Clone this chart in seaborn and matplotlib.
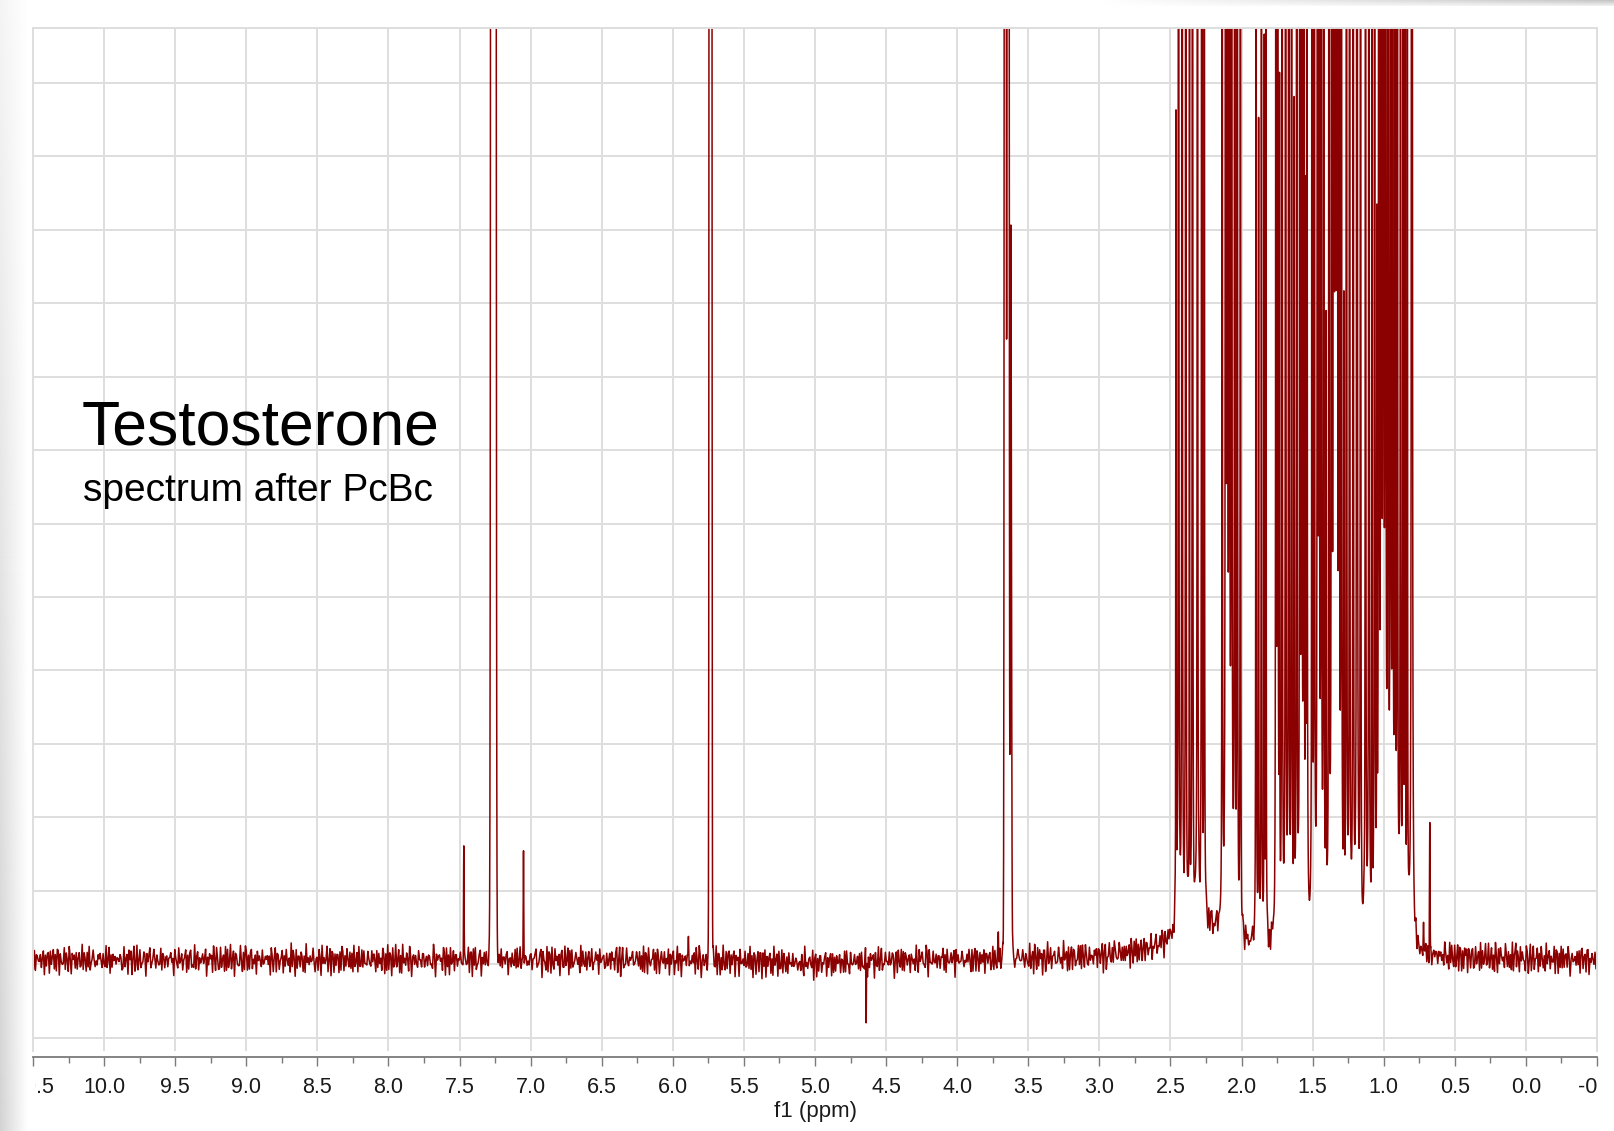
import numpy as np
import pandas as pd
import matplotlib
matplotlib.use("Agg")
import matplotlib.pyplot as plt
from matplotlib.transforms import Bbox
import seaborn as sns
from matplotlib.ticker import MultipleLocator, FuncFormatter

# ---------------------------------------------------------------------------
# Spectrum data (1H NMR, chemical shift in ppm, intensity in grid units)
# ---------------------------------------------------------------------------
# isolated signals: position, height, gaussian width (sigma, ppm)
singlet_ppm = [7.470, 7.262, 7.050, 5.890, 5.735, 4.640, 3.710,
               3.662, 3.642, 3.622, 0.720, 0.676, 0.070]
singlet_height = [1.55, 900.0, 1.50, 0.30, 500.0, -0.95, 0.35,
                  70.0, 100.0, 10.0, 0.40, 1.75, 0.25]
singlet_sigma = [0.0018, 0.0070, 0.0018, 0.0020, 0.0040, 0.0015, 0.0020,
                 0.0041, 0.0041, 0.0041, 0.0020, 0.0018, 0.0020]

# steroid backbone multiplets between 2.5 and 0.8 ppm (lorentzian lines)
cluster_ppm = [
    2.461, 2.443, 2.418, 2.392, 2.366, 2.345, 2.310, 2.280, 2.262,
    2.136, 2.112, 2.100, 2.086, 2.070, 2.048, 2.030, 2.008,
    1.898, 1.880, 1.860, 1.840, 1.828,
    1.758, 1.746, 1.733, 1.715, 1.690, 1.668, 1.648, 1.630,
    1.612, 1.590, 1.577, 1.562, 1.550, 1.540, 1.504, 1.488,
    1.466, 1.455, 1.440, 1.422, 1.405, 1.385, 1.366, 1.352, 1.340, 1.328,
    1.314, 1.298,
    1.280, 1.262, 1.240, 1.215, 1.188,
    1.163, 1.128, 1.104, 1.083, 1.064, 1.048, 1.034,
    1.018, 1.003, 0.988, 0.970, 0.952, 0.937, 0.920, 0.904,
    0.882, 0.864, 0.850, 0.834, 0.802,
]
cluster_height = [
    11, 55, 55, 50, 12, 50, 50, 45, 30,
    30, 70, 80, 75, 70, 50, 40, 30,
    30, 11, 28, 12, 16,
    45, 60, 11, 50, 55, 50, 45, 11,
    45, 50, 60, 55, 9, 45, 50, 45,
    55, 60, 55, 45, 8, 45, 70, 90, 120, 90,
    60, 55,
    8, 50, 45, 50, 100,
    40, 45, 50, 12, 50, 9, 80,
    100, 110, 90, 80, 70, 60, 60, 50,
    40, 35, 30, 25, 150,
]
cluster_hwhm = 0.0012

# broad baseline components: centre, height, half width (ppm)
baseline_ppm = [2.30, 1.30, 5.00]
baseline_height = [0.45, 0.15, -0.05]
baseline_hwhm = [0.25, 0.35, 0.40]
baseline_offset = 0.05

# baseline noise samples (two interleaved records)
noise_a = [0.12, -0.05, 0.08, -0.14, 0.03, 0.15, -0.09, 0.01, -0.12, 0.10,
           0.06, -0.15, 0.13, -0.02, -0.08, 0.14, 0.04, -0.11, 0.09, -0.06,
           0.16, -0.13, 0.02, 0.07, -0.10, 0.11, -0.03, -0.16, 0.05, 0.13,
           -0.07, 0.00, 0.12, -0.12, 0.08, -0.04, 0.15, -0.09, 0.03, -0.14,
           0.10, 0.06, -0.11, 0.14, -0.01, -0.08, 0.11, -0.15, 0.04, 0.09,
           -0.05, 0.16, -0.10, 0.02, -0.13, 0.07, 0.12, -0.06, 0.01, -0.12,
           0.13, -0.03, 0.08, -0.16, 0.10, 0.05, -0.09, 0.15, -0.02, -0.11,
           0.06, 0.11, -0.14, 0.03, -0.07, 0.14, -0.04, 0.09, -0.10, 0.00,
           0.12, -0.13, 0.07, 0.04, -0.08, 0.16, -0.12, 0.02, -0.05, 0.10,
           -0.15, 0.08, 0.13, -0.06, 0.01, -0.09, 0.11]
noise_b = [0.06, -0.09, 0.03, 0.10, -0.04, -0.08, 0.07, 0.01, -0.10, 0.05,
           0.09, -0.02, -0.07, 0.08, -0.05, 0.02, 0.10, -0.09, 0.04, -0.01,
           -0.06, 0.07, 0.03, -0.10, 0.09, -0.03, 0.05, -0.08, 0.00, 0.06,
           -0.04, 0.10, -0.07, 0.02, 0.08, -0.09, 0.04, -0.02, 0.07, -0.06,
           0.01, 0.09, -0.10, 0.05, -0.03, 0.06, -0.08, 0.03, 0.10, -0.05,
           -0.01, 0.08, -0.07, 0.04, 0.02, -0.09, 0.07, -0.04, 0.09, -0.06,
           0.03]
noise_step = 0.007

ppm_min, ppm_max = -0.5, 10.5

# ---------------------------------------------------------------------------
# Build the spectrum
# ---------------------------------------------------------------------------
ppm = np.linspace(ppm_min, ppm_max, 22001)

knots = np.arange(ppm_min, ppm_max + noise_step, noise_step)
noise_knots = np.resize(noise_a, knots.size) + 0.8 * np.resize(noise_b, knots.size)
intensity = np.interp(ppm, knots, noise_knots) + baseline_offset

for c, h, w in zip(baseline_ppm, baseline_height, baseline_hwhm):
    intensity += h * w ** 2 / ((ppm - c) ** 2 + w ** 2)
for c, h, s in zip(singlet_ppm, singlet_height, singlet_sigma):
    intensity += h * np.exp(-0.5 * ((ppm - c) / s) ** 2)
for c, h in zip(cluster_ppm, cluster_height):
    intensity += h * cluster_hwhm ** 2 / ((ppm - c) ** 2 + cluster_hwhm ** 2)

spectrum = pd.DataFrame({"f1 (ppm)": ppm, "intensity": intensity})

# ---------------------------------------------------------------------------
# Figure
# ---------------------------------------------------------------------------
sns.set_theme(style="white")
plt.rcParams["font.family"] = ["Liberation Sans", "DejaVu Sans"]

W, H = 1614, 1131
fig = plt.figure(figsize=(W / 100, H / 100), dpi=100, facecolor="white")
ax = fig.add_axes([33 / W, 1 - 1051 / H, (1597 - 33) / W, (1051 - 28) / H])

sns.lineplot(data=spectrum, x="f1 (ppm)", y="intensity", ax=ax,
             color="#8b0000", linewidth=1.1, estimator=None, sort=False)

ax.set_xlim(ppm_max, ppm_min)
ax.set_ylim(-1.18, 12.745)

ax.xaxis.set_major_locator(MultipleLocator(0.5))
ax.xaxis.set_minor_locator(MultipleLocator(0.25))
ax.xaxis.set_major_formatter(FuncFormatter(lambda v, p: f"{round(v, 2) + 0.0:.1f}"))
ax.yaxis.set_major_locator(MultipleLocator(1))

ax.grid(True, which="major", axis="both", color="#dedede", linewidth=1.4)
ax.set_axisbelow(True)

for side in ("left", "top", "right"):
    ax.spines[side].set_color("#dedede")
    ax.spines[side].set_linewidth(1.4)
ax.spines["bottom"].set_position(("outward", 4))
ax.spines["bottom"].set_color("#7a7a7a")
ax.spines["bottom"].set_linewidth(1.3)

ax.tick_params(axis="x", which="major", direction="out", length=6.5, width=1.0,
               color="#7a7a7a", labelsize=15.5, labelcolor="#1a1a1a", pad=8.5,
               bottom=True)
ax.tick_params(axis="x", which="minor", direction="out", length=4.5, width=1.0,
               color="#7a7a7a", bottom=True)
ax.tick_params(axis="y", left=False, labelleft=False)

ax.set_xlabel("f1 (ppm)", fontsize=16, color="#1a1a1a", labelpad=2)
ax.set_ylabel("")

ax.text(10.156, 7.08, "Testosterone", fontsize=45, color="black",
        ha="left", va="baseline")
ax.text(10.149, 6.31, "spectrum after PcBc", fontsize=28, color="black",
        ha="left", va="baseline")

# soft grey frame shading along the left and top-right edges of the page
frame = fig.add_axes([0, 0, 1, 1], zorder=10)
frame.set_axis_off()
frame.patch.set_alpha(0)

left_alpha = np.linspace(0.85, 0.0, 28)[None, :] * np.linspace(0.25, 1.0, 200)[:, None]
left_rgba = np.zeros(left_alpha.shape + (4,))
left_rgba[..., :3] = 0.80
left_rgba[..., 3] = left_alpha
frame.imshow(left_rgba, extent=(0, 28, H, 0), aspect="auto", interpolation="bilinear")

top_alpha = np.linspace(0.0, 1.0, 200)[None, :] * np.linspace(1.0, 0.3, 6)[:, None]
top_rgba = np.zeros(top_alpha.shape + (4,))
top_rgba[..., :3] = 0.78
top_rgba[..., 3] = top_alpha
frame.imshow(top_rgba, extent=(1100, W, 6, 0), aspect="auto", interpolation="bilinear")
frame.set_xlim(0, W)
frame.set_ylim(H, 0)

# the outermost tick labels are cut by the page margins
fig.canvas.draw()
label_clip = Bbox.from_extents(35, 0, 1599, H)
for lab in ax.get_xticklabels():
    lab.set_clip_box(label_clip)
    lab.set_clip_on(True)

fig.savefig("out.png", dpi=100, facecolor="white")
